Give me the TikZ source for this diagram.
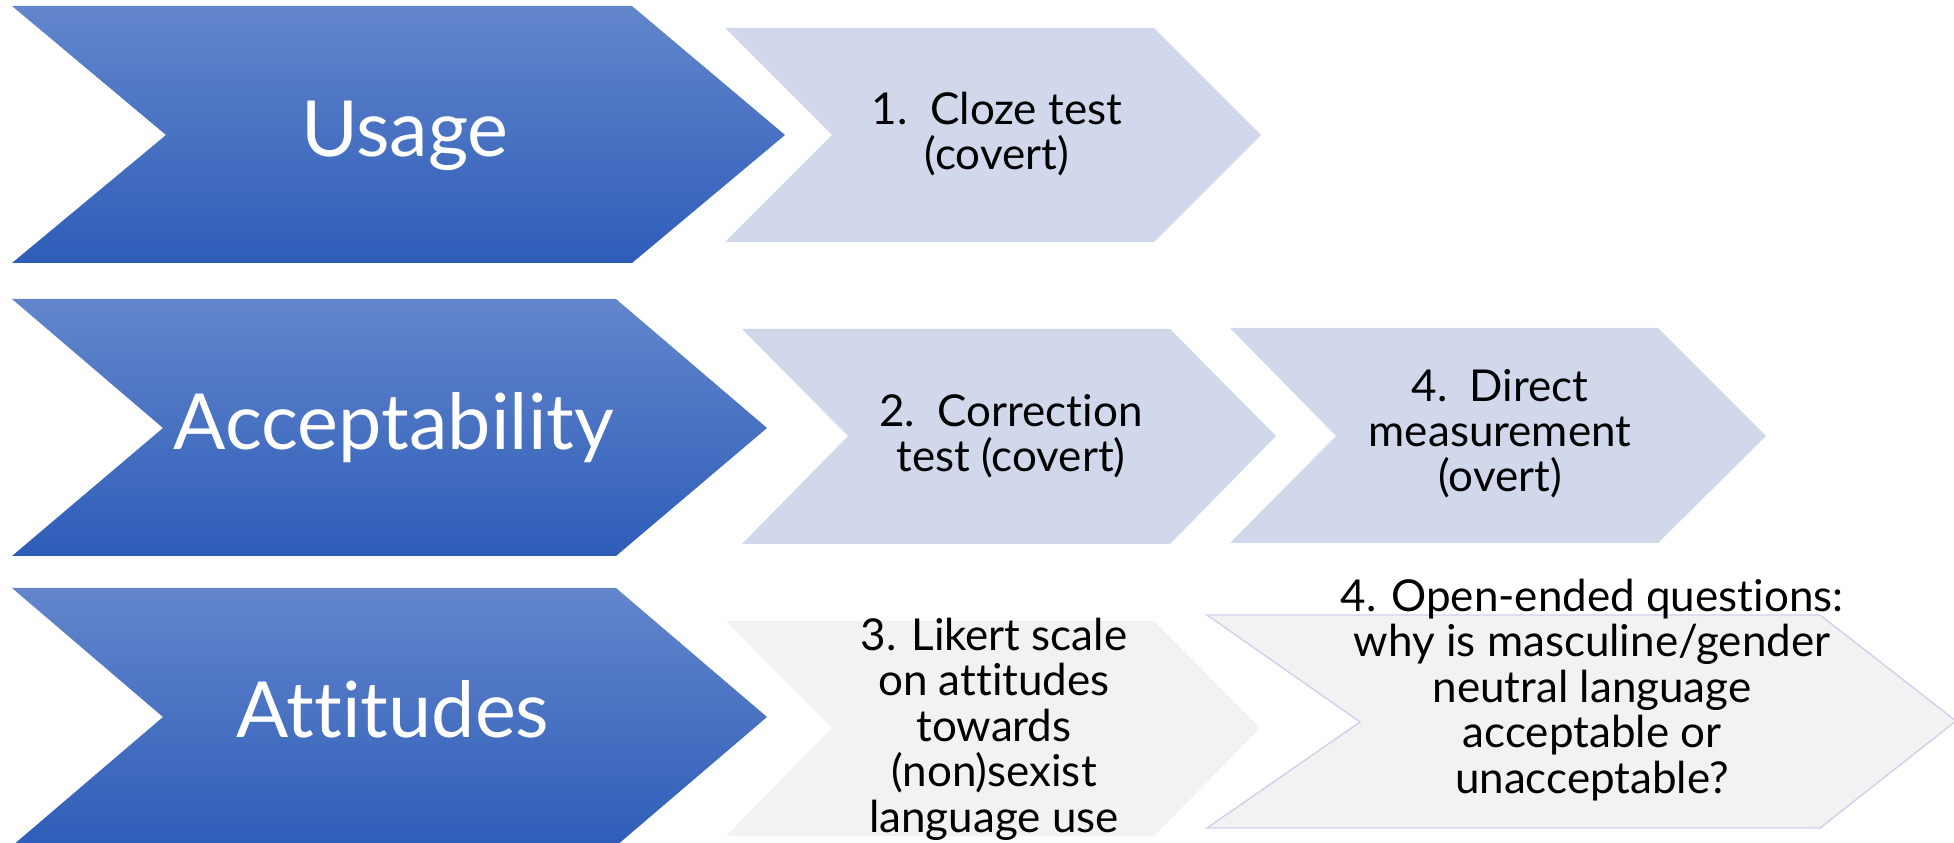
\documentclass[tikz,border=0pt]{standalone}
\usepackage{fontspec}
\setmainfont{Lato}[Ligatures=NoCommon]
\usepackage{tikz}
\usetikzlibrary{calc}
\definecolor{hdtop}{RGB}{99,134,204}
\definecolor{hdbot}{RGB}{46,93,184}
\definecolor{pale}{RGB}{209,216,236}
\definecolor{greybox}{RGB}{242,242,242}
\definecolor{rim}{RGB}{205,210,234}
\newcommand{\hdfont}{\fontsize{22}{26}\selectfont}
\newcommand{\bxfont}{\fontsize{12.5}{12.9}\selectfont}

\begin{document}
\begin{tikzpicture}[x=0.01cm,y=-0.01cm,
    head/.style={top color=hdtop,bottom color=hdbot},
    hdtxt/.style={text=white,font=\hdfont,anchor=base,inner sep=0pt},
    bxtxt/.style={text=black,font=\bxfont,align=center,anchor=base,inner sep=0pt}]
                \useasboundingbox (0,0) rectangle (1954,843);
                \clip (0,0) rectangle (1954,843);
                % the three big chevrons
                \shade[head] (12,6) -- (632,6) -- (785,135) -- (632,263) -- (12,263) -- (166,135) -- cycle;
                \shade[head] (12,299) -- (616,299) -- (767,428) -- (616,556) -- (12,556) -- (163,428) -- cycle;
                \shade[head] (12,588) -- (616,588) -- (767,717) -- (616,846) -- (12,846) -- (163,717) -- cycle;
                \node[hdtxt] (usage) at (405,157) {Usage};
                \node[hdtxt] (accept) at (394,450) {Acceptability};
                \node[hdtxt] (attit) at (393,738) {Attitudes};
                % methods, row by row (nodes sit on their last baseline)
                \fill[pale] (725,28) -- (1154,28) -- (1261,135) -- (1154,242) -- (725,242) -- (832,135) -- cycle;
                \fill[pale] (742,329) -- (1170,329) -- (1276,436) -- (1170,544) -- (742,544) -- (848,436) -- cycle;
                \fill[pale] (1230,328) -- (1658,328) -- (1766,436) -- (1658,543) -- (1230,543) -- (1336,436) -- cycle;
                \fill[greybox] (726,621) -- (1154,621) -- (1260,728) -- (1154,836) -- (726,836) -- (832,728) -- cycle;
                \draw[rim,fill=greybox,line width=0.4pt] (1207,615) -- (1820,615) -- (1956,721) -- (1820,828) -- (1207,828) -- (1360,722) -- cycle;
                \node[bxtxt] (cloze) at (997,170) {1.\ \ Cloze test\\(covert)};
                \node[bxtxt] (correct) at (1011,472) {2.\ \ Correction\\test (covert)};
                \node[bxtxt] (direct) at (1500,492) {4.\ \ Direct\\measurement\\(overt)};
                \node[bxtxt] (likert) at (994,832) {3. Likert scale\\on attitudes\\towards\\(non)sexist\\language use};
                \node[bxtxt] (open) at (1592,793) {4. Open-ended questions:\\why is masculine/gender\\neutral language\\acceptable or\\unacceptable?};
\end{tikzpicture}
\end{document}
